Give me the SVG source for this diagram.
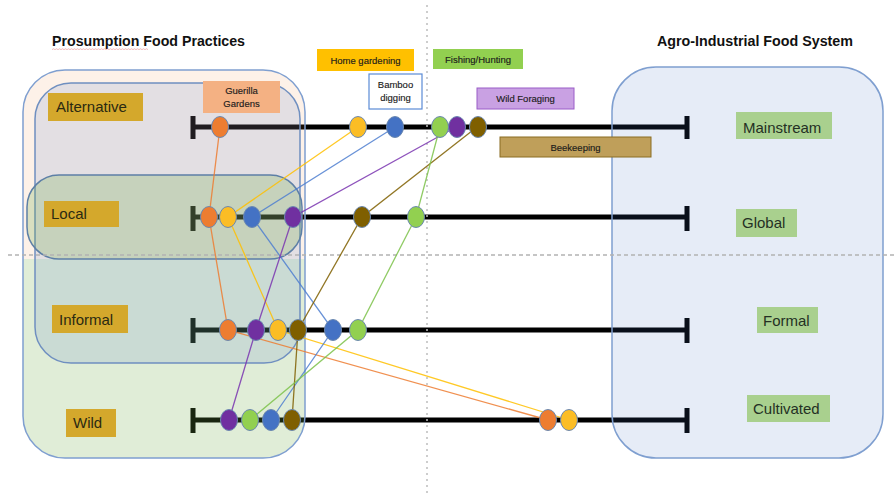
<svg xmlns="http://www.w3.org/2000/svg" width="894" height="495" viewBox="0 0 894 495">
  <style>
    text { font-family: "Liberation Sans", Arial, sans-serif; }
    .title { font-size: 14px; font-weight: bold; fill: #111; }
    .axis { stroke: #000; stroke-width: 5; fill: none; }
    .guide-h { stroke: #b3b3b3; stroke-width: 1.5; stroke-dasharray: 4 3; fill: none; }
    .guide-v { stroke: #bdbdbd; stroke-width: 1.5; stroke-dasharray: 2 4; fill: none; }
    .frame { stroke: #7f9fd0; stroke-width: 1.5; fill: none; }
    .cat-l rect { fill: #d4a82c; }
    .cat-l text { font-size: 15px; fill: #2b2a12; }
    .cat-r rect { fill: #a9d08e; }
    .cat-r text { font-size: 15px; fill: #243024; }
    .tag text { font-size: 9.5px; fill: #1c1c1c; text-anchor: middle; stroke: #1c1c1c; stroke-width: 0.15; }
    .link { fill: none; stroke-width: 1.3; stroke-opacity: 0.85; }
    .dot { stroke: #6b88b0; stroke-width: 1; }
    .orange { stroke: #ed7d31; } .f-orange { fill: #ed7d31; }
    .yellow { stroke: #ffc000; } .f-yellow { fill: #fbbd25; }
    .blue { stroke: #4f7fd0; } .f-blue { fill: #4472c4; }
    .green { stroke: #7cc24a; } .f-green { fill: #92d050; }
    .purple { stroke: #7a35b0; } .f-purple { fill: #7030a0; }
    .brown { stroke: #7f5f00; } .f-brown { fill: #7f5f00; }
  </style>
  <defs>
    <clipPath id="outerClip">
      <rect x="23" y="70" width="282" height="388" rx="42"/>
    </clipPath>
    <ellipse id="bead" cx="0" cy="0" rx="8.5" ry="10.5"/>
  </defs>

  <rect width="894" height="495" fill="#ffffff"/>

  <!-- headings -->
  <text class="title" x="52" y="46" textLength="193" lengthAdjust="spacingAndGlyphs">Prosumption Food Practices</text>
  <path d="M52 49.6 l1.5 -0.8 l1.5 0.8 l1.5 -0.8 l1.5 0.8 l1.5 -0.8 l1.5 0.8 l1.5 -0.8 l1.5 0.8 l1.5 -0.8 l1.5 0.8 l1.5 -0.8 l1.5 0.8 l1.5 -0.8 l1.5 0.8 l1.5 -0.8 l1.5 0.8 l1.5 -0.8 l1.5 0.8 l1.5 -0.8 l1.5 0.8 l1.5 -0.8 l1.5 0.8 l1.5 -0.8 l1.5 0.8 l1.5 -0.8 l1.5 0.8 l1.5 -0.8 l1.5 0.8 l1.5 -0.8 l1.5 0.8 l1.5 -0.8 l1.5 0.8 l1.5 -0.8 l1.5 0.8 l1.5 -0.8 l1.5 0.8 l1.5 -0.8 l1.5 0.8 l1.5 -0.8 l1.5 0.8 l1.5 -0.8 l1.5 0.8 l1.5 -0.8 l1.5 0.8 l1.5 -0.8 l1.5 0.8 l1.5 -0.8 l1.5 0.8 l1.5 -0.8 l1.5 0.8 l1.5 -0.8 l1.5 0.8 l1.5 -0.8 l1.5 0.8 l1.5 -0.8 l1.5 0.8 l1.5 -0.8 l1.5 0.8 l1.5 -0.8 l1.5 0.8 l1.5 -0.8 l1.5 0.8 l1.5 -0.8 l1.5 0.8" fill="none" stroke="#e06a6a" stroke-width="0.6" stroke-opacity="0.75"/>
  <text class="title" x="657" y="46" textLength="196" lengthAdjust="spacingAndGlyphs">Agro-Industrial Food System</text>

  <!-- continuum axes with end stops -->
  <g id="axes">
    <path class="axis" d="M193 127 H687 M193 116 V139 M687 116 V139"/>
    <path class="axis" d="M193 217 H687 M193 206 V231 M687 206 V231"/>
    <path class="axis" d="M193 330 H687 M193 318 V343 M687 318 V343"/>
    <path class="axis" d="M193 420 H687 M193 408 V433 M687 408 V433"/>
  </g>

  <!-- translucent practice domains -->
  <g id="prosumption-domains">
    <g clip-path="url(#outerClip)">
      <rect x="23" y="70" width="282" height="189" fill="#ed7d31" fill-opacity="0.11"/>
      <rect x="23" y="259" width="282" height="199" fill="#70ad47" fill-opacity="0.22"/>
    </g>
    <rect class="frame" x="23" y="70" width="282" height="388" rx="42"/>
    <rect x="35" y="83" width="265" height="280" rx="36" fill="#4472c4" fill-opacity="0.14" stroke="#6f8fc0" stroke-width="1.5"/>
    <rect x="27" y="175" width="275" height="84" rx="32" fill="#70ad47" fill-opacity="0.25" stroke="#5d7fa6" stroke-width="1.5"/>
  </g>
  <g id="agro-domain">
    <rect x="612" y="67" width="271" height="391" rx="44" fill="#4472c4" fill-opacity="0.135" stroke="#7f9fd0" stroke-width="1.5"/>
  </g>

  <!-- quadrant guides -->
  <g id="guides">
    <path class="guide-h" d="M8 255 H894"/>
    <path class="guide-v" d="M427 5 V495"/>
  </g>

  <!-- practice paths across the four continua -->
  <g id="connectors">
    <polyline class="link orange" points="220,127 209,217 228,330 548,420"/>
    <polyline class="link yellow" points="358,127 228,217 278,330 569,420"/>
    <polyline class="link blue" points="395,127 252,217 333,330 271,420"/>
    <polyline class="link purple" points="456,127 293,217 256,330 229,420"/>
    <polyline class="link brown" points="477,127 362,217 298,330 292,420"/>
    <polyline class="link green" points="440,127 416,217 358,330 250,420"/>
  </g>

  <!-- practice positions -->
  <g id="positions">
    <g id="row-alternative">
      <use href="#bead" class="dot f-orange" x="220" y="127"/>
      <use href="#bead" class="dot f-yellow" x="358" y="127"/>
      <use href="#bead" class="dot f-blue" x="395" y="127"/>
      <use href="#bead" class="dot f-green" x="440" y="127"/>
      <use href="#bead" class="dot f-purple" x="457" y="127"/>
      <use href="#bead" class="dot f-brown" x="478" y="127"/>
    </g>
    <g id="row-local">
      <use href="#bead" class="dot f-orange" x="209" y="217"/>
      <use href="#bead" class="dot f-yellow" x="228" y="217"/>
      <use href="#bead" class="dot f-blue" x="252" y="217"/>
      <use href="#bead" class="dot f-purple" x="293" y="217"/>
      <use href="#bead" class="dot f-brown" x="362" y="217"/>
      <use href="#bead" class="dot f-green" x="416" y="217"/>
    </g>
    <g id="row-informal">
      <use href="#bead" class="dot f-orange" x="228" y="330"/>
      <use href="#bead" class="dot f-purple" x="256" y="330"/>
      <use href="#bead" class="dot f-yellow" x="278" y="330"/>
      <use href="#bead" class="dot f-brown" x="298" y="330"/>
      <use href="#bead" class="dot f-blue" x="333" y="330"/>
      <use href="#bead" class="dot f-green" x="358" y="330"/>
    </g>
    <g id="row-wild">
      <use href="#bead" class="dot f-purple" x="229" y="420"/>
      <use href="#bead" class="dot f-green" x="250" y="420"/>
      <use href="#bead" class="dot f-blue" x="271" y="420"/>
      <use href="#bead" class="dot f-brown" x="292" y="420"/>
      <use href="#bead" class="dot f-orange" x="548" y="420"/>
      <use href="#bead" class="dot f-yellow" x="569" y="420"/>
    </g>
  </g>

  <!-- prosumption side categories -->
  <g id="cat-alternative" class="cat-l"><rect x="48" y="93" width="95" height="28"/><text x="56" y="112">Alternative</text></g>
  <g id="cat-local" class="cat-l"><rect x="44" y="201" width="75" height="26"/><text x="51" y="219">Local</text></g>
  <g id="cat-informal" class="cat-l"><rect x="52" y="305" width="76" height="28"/><text x="59" y="325">Informal</text></g>
  <g id="cat-wild" class="cat-l"><rect x="66" y="409" width="50" height="28"/><text x="73" y="428">Wild</text></g>

  <!-- agro-industrial side categories -->
  <g id="cat-mainstream" class="cat-r"><rect x="736" y="112" width="96" height="27"/><text x="743" y="133">Mainstream</text></g>
  <g id="cat-global" class="cat-r"><rect x="736" y="209" width="61" height="28"/><text x="742" y="228">Global</text></g>
  <g id="cat-formal" class="cat-r"><rect x="757" y="307" width="61" height="26"/><text x="763" y="326">Formal</text></g>
  <g id="cat-cultivated" class="cat-r"><rect x="747" y="395" width="83" height="27"/><text x="753" y="414">Cultivated</text></g>

  <!-- practice legend tags -->
  <g id="tag-guerilla" class="tag">
    <rect x="203" y="81" width="77" height="32" fill="#f4b183"/>
    <text x="241.5" y="94">Guerilla</text>
    <text x="241.5" y="107">Gardens</text>
  </g>
  <g id="tag-home" class="tag">
    <rect x="317" y="49" width="97" height="22" fill="#ffc000"/>
    <text x="365.5" y="63.5">Home gardening</text>
  </g>
  <g id="tag-bamboo" class="tag">
    <rect x="369" y="74" width="53" height="35" fill="#ffffff" stroke="#5b8bd6" stroke-width="1.2"/>
    <text x="395.5" y="88">Bamboo</text>
    <text x="395.5" y="101">digging</text>
  </g>
  <g id="tag-fishing" class="tag">
    <rect x="433" y="49" width="90" height="20" fill="#92d050"/>
    <text x="478" y="62.5">Fishing/Hunting</text>
  </g>
  <g id="tag-foraging" class="tag">
    <rect x="477" y="88" width="97" height="21" fill="#c9a1e3" stroke="#9a5cc8" stroke-width="1"/>
    <text x="525.5" y="102">Wild Foraging</text>
  </g>
  <g id="tag-beekeeping" class="tag">
    <rect x="500" y="137" width="151" height="20" fill="#bf9f5a" stroke="#8a6c22" stroke-width="1"/>
    <text x="575.5" y="150.5">Beekeeping</text>
  </g>
</svg>
